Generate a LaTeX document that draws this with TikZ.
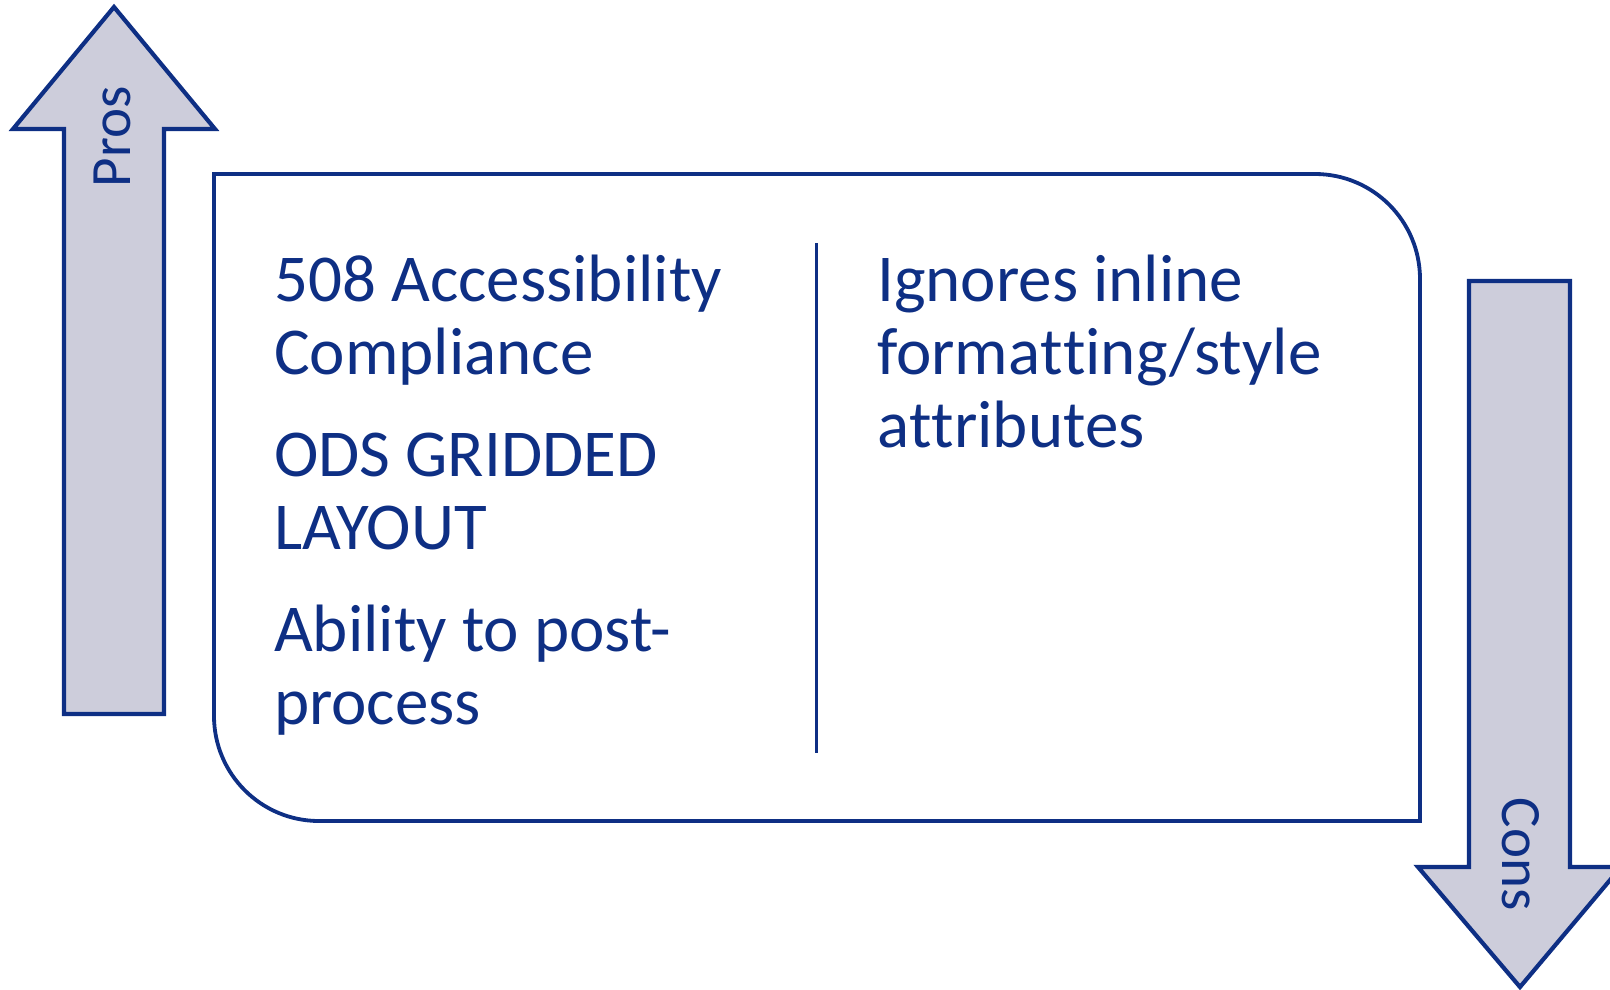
\documentclass[tikz,border=0pt]{standalone}
\usepackage{fontspec}
\setmainfont[Ligatures=NoCommon]{Carlito}
\definecolor{navy}{HTML}{0E2F84}
\definecolor{lav}{HTML}{CDCDDB}
\newcommand{\nl}{\kern0pt }
\begin{document}
\begin{tikzpicture}[x=1pt,y=-1pt,
  arrowshape/.style={draw=navy,fill=lav,line width=4.2pt,line join=miter},
  boxline/.style={draw=navy,line width=3.8pt},
  body/.style={anchor=base west,inner sep=0pt,text=navy,font=\fontsize{67}{73}\selectfont},
  lab/.style={anchor=base,inner sep=0pt,text=navy,font=\fontsize{57}{60}\selectfont}]
\useasboundingbox (0,0) rectangle (1610,989);
\clip (0,0) rectangle (1610,989);
% Pros arrow
\draw[arrowshape] (114,7) -- (215,129) -- (164,129) -- (164,714) -- (64,714) -- (64,129) -- (13,129) -- cycle;
\node[lab,rotate=90] (pros) at (130,137) {Pros};
% Cons arrow
\draw[arrowshape] (1469,281) -- (1570,281) -- (1570,867) -- (1621,867) -- (1520,987) -- (1418,867) -- (1469,867) -- cycle;
\node[lab,rotate=-90] (cons) at (1502,854) {Cons};
% Box
\draw[boxline] (214,174) -- (1315,174) .. controls (1373,174) and (1420,221) .. (1420,279) -- (1420,821) -- (319,821) .. controls (261,821) and (214,774) .. (214,716) -- cycle;
% divider
\coordinate (dtop) at (816,243);
\coordinate (dbot) at (816,753);
\draw[draw=navy,line width=3pt] (dtop) -- (dbot);
% left column
\node[body] (l1) at (274,301) {508 Accessibility};
\node[body] (l2) at (274,374) {Compliance};
\node[body] (l3) at (274,476) {ODS GRIDDED};
\node[body] (l4) at (274,549) {LAYOUT};
\node[body] (l5) at (274,651) {Ability to post-};
\node[body] (l6) at (274,724) {process};
% right column
\node[body] (r1) at (877,301) {Ignores inline};
\node[body] (r2) at (877,374) {forma\nl t\nl t\nl ing/style};
\node[body] (r3) at (877,447) {a\nl t\nl t\nl ributes};
\end{tikzpicture}
\end{document}
